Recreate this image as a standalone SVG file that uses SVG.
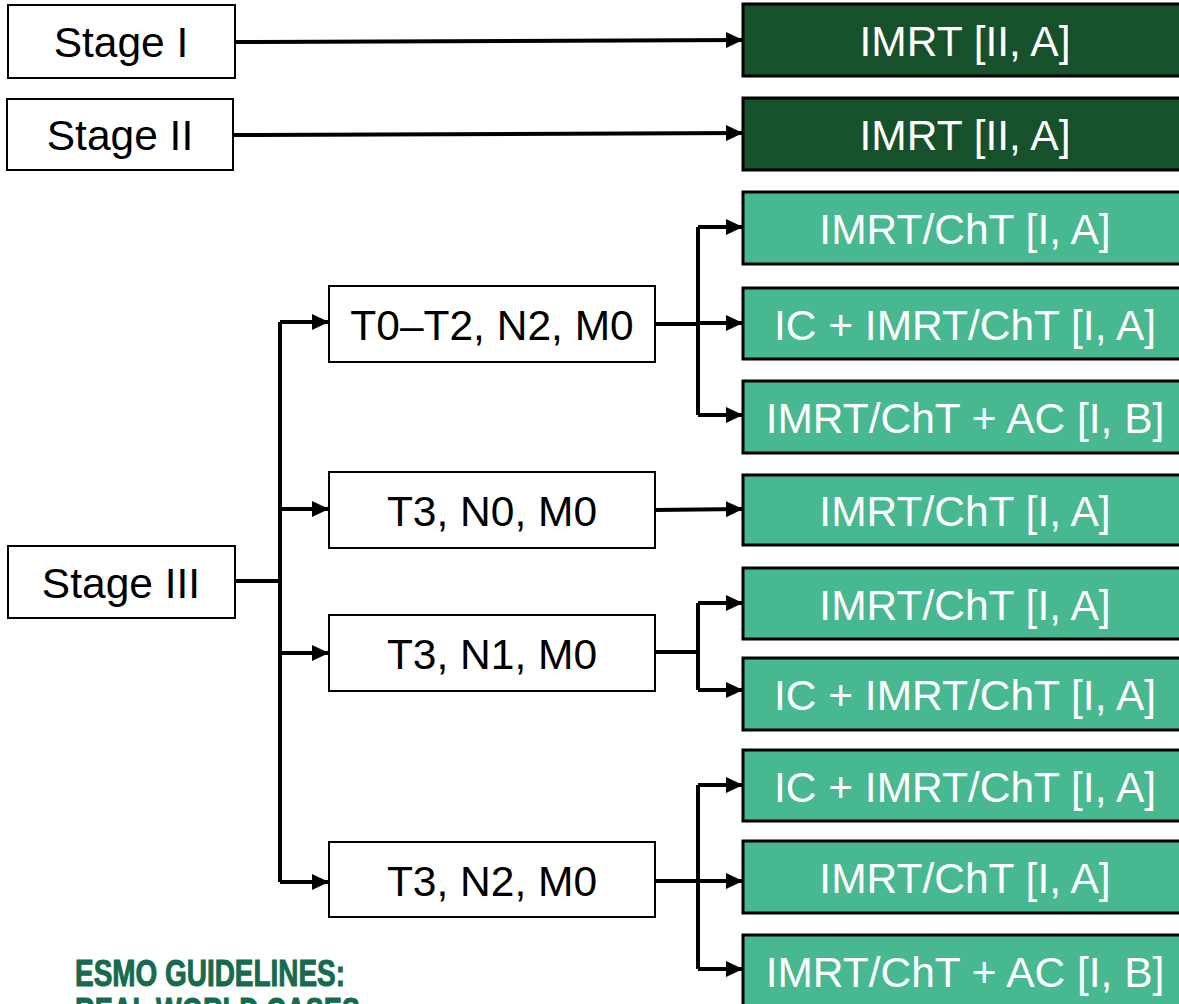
<svg xmlns="http://www.w3.org/2000/svg" width="1179" height="1004" viewBox="0 0 1179 1004">
<style>
.w{fill:#fff;stroke:#000;stroke-width:2}
.dk{fill:#17512B;stroke:#000;stroke-width:3}
.tl{fill:#48B891;stroke:#000;stroke-width:3}
.t{font-family:"Liberation Sans",Arial,sans-serif;font-size:42.5px;text-anchor:middle;fill:#000}
.tw{font-family:"Liberation Sans",Arial,sans-serif;font-size:42.5px;text-anchor:middle;fill:#fff}
.c{fill:none;stroke:#000;stroke-width:4}
.logo{font-family:"Liberation Sans",Arial,sans-serif;font-weight:bold;font-size:37px;fill:#176A4E;stroke:#176A4E;stroke-width:1}
</style>
<defs>
<marker id="ah" markerWidth="17" markerHeight="16" viewBox="0 0 17 16" refX="17" refY="8" orient="auto" markerUnits="userSpaceOnUse">
<path d="M0,0 L17,8 L0,16 Z" fill="#000"/>
</marker>
</defs>
<g id="connectors">
<path class="c" d="M235,42 L743,40" marker-end="url(#ah)"/>
<path class="c" d="M233,135 L743,133" marker-end="url(#ah)"/>
<path class="c" d="M235,581 L280,581"/>
<path class="c" d="M280,322 L280,882"/>
<path class="c" d="M280,322 L329,322" marker-end="url(#ah)"/>
<path class="c" d="M280,509 L329,509" marker-end="url(#ah)"/>
<path class="c" d="M280,653 L329,653" marker-end="url(#ah)"/>
<path class="c" d="M280,882 L329,882" marker-end="url(#ah)"/>
<path class="c" d="M655,324 L698,324"/>
<path class="c" d="M698,227 L698,415"/>
<path class="c" d="M698,227 L743,227" marker-end="url(#ah)"/>
<path class="c" d="M698,323 L743,323" marker-end="url(#ah)"/>
<path class="c" d="M698,415 L743,415" marker-end="url(#ah)"/>
<path class="c" d="M655,510 L743,509" marker-end="url(#ah)"/>
<path class="c" d="M655,652 L698,652"/>
<path class="c" d="M698,603 L698,690"/>
<path class="c" d="M698,603 L743,603" marker-end="url(#ah)"/>
<path class="c" d="M698,690 L743,690" marker-end="url(#ah)"/>
<path class="c" d="M655,881 L698,881"/>
<path class="c" d="M698,785 L698,969"/>
<path class="c" d="M698,785 L743,785" marker-end="url(#ah)"/>
<path class="c" d="M698,881 L743,881" marker-end="url(#ah)"/>
<path class="c" d="M698,969 L743,969" marker-end="url(#ah)"/>
</g>
<g id="stage1"><rect class="w" x="8" y="5" width="227" height="73"/><text class="t" x="121" y="57">Stage I</text></g>
<g id="stage2"><rect class="w" x="7" y="99" width="226" height="71"/><text class="t" x="120" y="150">Stage II</text></g>
<g id="stage3"><rect class="w" x="8" y="546" width="227" height="72"/><text class="t" x="121" y="598">Stage III</text></g>
<g id="t0t2n2"><rect class="w" x="329" y="286" width="326" height="76"/><text class="t" x="492" y="340">T0–T2, N2, M0</text></g>
<g id="t3n0"><rect class="w" x="329" y="472" width="326" height="76"/><text class="t" x="492" y="526">T3, N0, M0</text></g>
<g id="t3n1"><rect class="w" x="329" y="615" width="326" height="76"/><text class="t" x="492" y="669">T3, N1, M0</text></g>
<g id="t3n2"><rect class="w" x="329" y="842" width="326" height="75"/><text class="t" x="492" y="896">T3, N2, M0</text></g>
<g id="r1"><rect class="dk" x="743" y="4" width="445" height="72"/><text class="tw" x="965" y="56">IMRT [II, A]</text></g>
<g id="r2"><rect class="dk" x="743" y="98" width="445" height="72"/><text class="tw" x="965" y="150">IMRT [II, A]</text></g>
<g id="r3"><rect class="tl" x="743" y="192" width="445" height="72"/><text class="tw" x="965" y="244">IMRT/ChT [I, A]</text></g>
<g id="r4"><rect class="tl" x="743" y="288" width="445" height="71"/><text class="tw" x="965" y="340">IC + IMRT/ChT [I, A]</text></g>
<g id="r5"><rect class="tl" x="743" y="381" width="445" height="72"/><text class="tw" x="965" y="433">IMRT/ChT + AC [I, B]</text></g>
<g id="r6"><rect class="tl" x="743" y="475" width="445" height="70"/><text class="tw" x="965" y="526">IMRT/ChT [I, A]</text></g>
<g id="r7"><rect class="tl" x="743" y="568" width="445" height="71"/><text class="tw" x="965" y="620">IMRT/ChT [I, A]</text></g>
<g id="r8"><rect class="tl" x="743" y="658" width="445" height="72"/><text class="tw" x="965" y="710">IC + IMRT/ChT [I, A]</text></g>
<g id="r9"><rect class="tl" x="743" y="750" width="445" height="71"/><text class="tw" x="965" y="802">IC + IMRT/ChT [I, A]</text></g>
<g id="r10"><rect class="tl" x="743" y="841" width="445" height="72"/><text class="tw" x="965" y="893">IMRT/ChT [I, A]</text></g>
<g id="r11"><rect class="tl" x="743" y="935" width="445" height="80"/><text class="tw" x="965" y="987">IMRT/ChT + AC [I, B]</text></g>
<g id="logo">
<text class="logo" x="75" y="986" textLength="270" lengthAdjust="spacingAndGlyphs">ESMO GUIDELINES:</text>
<text class="logo" x="75" y="1024" textLength="285" lengthAdjust="spacingAndGlyphs">REAL WORLD CASES</text>
</g>
</svg>
